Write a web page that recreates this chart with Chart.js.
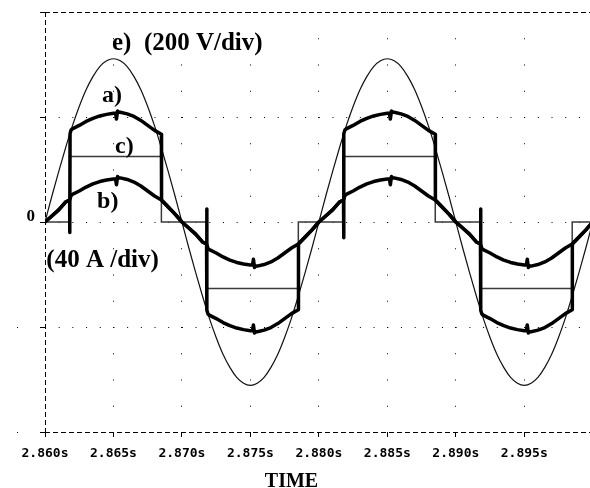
<!DOCTYPE html>
<html>
<head>
<meta charset="utf-8">
<script src="https://cdn.jsdelivr.net/npm/chart.js@4.4.1/dist/chart.umd.min.js"></script>
<style>
  html, body { margin: 0; padding: 0; background: #fff; }
  #c { display: block; }
</style>
</head>
<body>
<canvas id="c" width="590" height="488"></canvas>
<script>
// ---- data (time in ms after 2.860 s) ----
const xTickValues = [0, 5, 10, 15, 20, 25, 30, 35];
const xTickLabels = ['2.860s', '2.865s', '2.870s', '2.875s', '2.880s', '2.885s', '2.890s', '2.895s'];
const yTickValues = [-2, -1, 0, 1, 2];
const VOLTS_PER_DIV = 200;
const AMPS_PER_DIV = 40;
const curveLabels = ['e)  (200 V/div)', 'a)', 'c)', 'b)'];
const currentScaleLabel = '(40 A /div)';
const axisTitle = 'TIME';

// e) supply voltage [ms, V]
const voltage = [[0,0],[0.5,49],[1,96],[1.5,141],[2,183],[2.5,220],[3,252],[3.5,277],[4,296],[4.5,307],[5,311],[5.5,307],[6,296],[6.5,277],[7,252],[7.5,220],[8,183],[8.5,141],[9,96],[9.5,49],
[10,0],[10.5,-49],[11,-96],[11.5,-141],[12,-183],[12.5,-220],[13,-252],[13.5,-277],[14,-296],[14.5,-307],[15,-311],[15.5,-307],[16,-296],[16.5,-277],[17,-252],[17.5,-220],[18,-183],[18.5,-141],[19,-96],[19.5,-49],
[20,0],[20.5,49],[21,96],[21.5,141],[22,183],[22.5,220],[23,252],[23.5,277],[24,296],[24.5,307],[25,311],[25.5,307],[26,296],[26.5,277],[27,252],[27.5,220],[28,183],[28.5,141],[29,96],[29.5,49],
[30,0],[30.5,-49],[31,-96],[31.5,-141],[32,-183],[32.5,-220],[33,-252],[33.5,-277],[34,-296],[34.5,-307],[35,-311],[35.5,-307],[36,-296],[36.5,-277],[37,-252],[37.5,-220],[38,-183],[38.5,-141],[39,-96],[39.5,-49],[40,0]];

// b) current [ms, A]
const currentB = [[0,0],[0.5,2.3],[1,4.6],[1.5,7.6],[1.8,8.4],[1.9,10],[2,10.5],[2.5,11.8],[3,13.3],[3.5,14.5],[4,15.4],[4.5,16],[5,16.4],[5.15,16.4],[5.22,14.2],[5.3,17.3],[5.4,16.8],[5.5,16.8],[6,16.2],[6.5,15.2],[7,13.7],[7.5,11.8],[8,9.9],[8.5,8.4],[9,5.7],[9.5,3],
[10,0],[10.5,-2.3],[11,-4.6],[11.5,-7.6],[11.8,-8.4],[11.9,-10],[12,-10.5],[12.5,-11.8],[13,-13.3],[13.5,-14.5],[14,-15.4],[14.5,-16],[15,-16.4],[15.15,-16.4],[15.22,-14.2],[15.3,-17.3],[15.4,-16.8],[15.5,-16.8],[16,-16.2],[16.5,-15.2],[17,-13.7],[17.5,-11.8],[18,-9.9],[18.5,-8.4],[19,-5.7],[19.5,-3],
[20,0],[20.5,2.3],[21,4.6],[21.5,7.6],[21.8,8.4],[21.9,10],[22,10.5],[22.5,11.8],[23,13.3],[23.5,14.5],[24,15.4],[24.5,16],[25,16.4],[25.15,16.4],[25.22,14.2],[25.3,17.3],[25.4,16.8],[25.5,16.8],[26,16.2],[26.5,15.2],[27,13.7],[27.5,11.8],[28,9.9],[28.5,8.4],[29,5.7],[29.5,3],
[30,0],[30.5,-2.3],[31,-4.6],[31.5,-7.6],[31.8,-8.4],[31.9,-10],[32,-10.5],[32.5,-11.8],[33,-13.3],[33.5,-14.5],[34,-15.4],[34.5,-16],[35,-16.4],[35.15,-16.4],[35.22,-14.2],[35.3,-17.3],[35.4,-16.8],[35.5,-16.8],[36,-16.2],[36.5,-15.2],[37,-13.7],[37.5,-11.8],[38,-9.9],[38.5,-8.4],[39,-5.7],[39.5,-3],[40,0]];

// a) current [ms, A]
const currentA = [[0,0],[0.5,2.3],[1,4.6],[1.5,7.6],[1.8,8.4],[1.81,-4],[1.83,33.6],[1.9,35],[2,35.5],[2.5,36.8],[3,38.3],[3.5,39.5],[4,40.4],[4.5,41],[5,41.4],[5.15,41.4],[5.22,39.2],[5.3,42.3],[5.4,41.8],[5.5,41.8],[6,41.2],[6.5,40.2],[7,38.7],[7.5,36.8],[8,34.9],[8.5,33.4],[8.51,8.4],[9,5.7],[9.5,3],
[10,0],[10.5,-2.3],[11,-4.6],[11.5,-7.6],[11.8,-8.4],[11.81,5],[11.83,-33.6],[11.9,-35],[12,-35.5],[12.5,-36.8],[13,-38.3],[13.5,-39.5],[14,-40.4],[14.5,-41],[15,-41.4],[15.15,-41.4],[15.22,-39.2],[15.3,-42.3],[15.4,-41.8],[15.5,-41.8],[16,-41.2],[16.5,-40.2],[17,-38.7],[17.5,-36.8],[18,-34.9],[18.5,-33.4],[18.51,-8.4],[19,-5.7],[19.5,-3],
[20,0],[20.5,2.3],[21,4.6],[21.5,7.6],[21.8,8.4],[21.81,-6],[21.83,33.6],[21.9,35],[22,35.5],[22.5,36.8],[23,38.3],[23.5,39.5],[24,40.4],[24.5,41],[25,41.4],[25.15,41.4],[25.22,39.2],[25.3,42.3],[25.4,41.8],[25.5,41.8],[26,41.2],[26.5,40.2],[27,38.7],[27.5,36.8],[28,34.9],[28.5,33.4],[28.51,8.4],[29,5.7],[29.5,3],
[30,0],[30.5,-2.3],[31,-4.6],[31.5,-7.6],[31.8,-8.4],[31.81,5],[31.83,-33.6],[31.9,-35],[32,-35.5],[32.5,-36.8],[33,-38.3],[33.5,-39.5],[34,-40.4],[34.5,-41],[35,-41.4],[35.15,-41.4],[35.22,-39.2],[35.3,-42.3],[35.4,-41.8],[35.5,-41.8],[36,-41.2],[36.5,-40.2],[37,-38.7],[37.5,-36.8],[38,-34.9],[38.5,-33.4],[38.51,-8.4],[39,-5.7],[39.5,-3],[40,0]];

// c) square-wave current [ms of change, new level A]
const currentC = [[0,0],[1.8,25],[8.5,0],[11.8,-25.3],[18.5,0],[21.8,25],[28.5,0],[31.8,-25.3],[38.5,0],[40,0]];

// ---- build ----
const toDiv = (arr, perDiv) => arr.map(p => ({ x: p[0], y: p[1] / perDiv }));

const serif = '"Liberation Serif", "Times New Roman", Times, serif';

const labelPlugin = {
  id: 'curveLabels',
  afterDraw(chart) {
    const { ctx, scales: { x, y } } = chart;
    const put = (txt, xv, yv, size, align) => {
      ctx.font = 'bold ' + size + 'px ' + serif;
      ctx.textAlign = align || 'left';
      ctx.textBaseline = 'alphabetic';
      ctx.fillStyle = '#000';
      ctx.fillText(txt, x.getPixelForValue(xv), y.getPixelForValue(yv));
    };
    ctx.save();
    put(curveLabels[0], 4.89, 1.638, 25);
    put(curveLabels[1], 4.16, 1.143, 24);
    put(curveLabels[2], 5.11, 0.657, 24);
    put(curveLabels[3], 3.80, 0.133, 24);
    put(currentScaleLabel, 0.1, -0.43, 25);
    put(axisTitle, 18.0, -2.52, 20, 'center');
    ctx.restore();
  }
};

const thick = { showLine: true, borderColor: '#000', borderWidth: 3.5, pointRadius: 0, tension: 0, borderJoinStyle: 'round', borderCapStyle: 'round' };

new Chart(document.getElementById('c'), {
  type: 'scatter',
  data: {
    datasets: [
      Object.assign({ label: 'b)', data: toDiv(currentB, AMPS_PER_DIV) }, thick),
      Object.assign({ label: 'a)', data: toDiv(currentA, AMPS_PER_DIV) }, thick),
      { label: 'c)', data: toDiv(currentC, AMPS_PER_DIV), showLine: true, stepped: 'before', borderColor: '#3a3a3a', borderWidth: 1.5, pointRadius: 0 },
      { label: 'e)', data: toDiv(voltage, VOLTS_PER_DIV), showLine: true, borderColor: '#111', borderWidth: 1.2, pointRadius: 0, cubicInterpolationMode: 'monotone' }
    ]
  },
  options: {
    responsive: false,
    animation: false,
    devicePixelRatio: 1,
    layout: { padding: { top: 12, right: 0, left: 0, bottom: 0 } },
    plugins: { legend: { display: false }, tooltip: { enabled: false } },
    scales: {
      x: {
        type: 'linear',
        min: 0,
        max: 39.8,
        afterBuildTicks: s => { s.ticks = xTickValues.map(v => ({ value: v })); },
        afterFit: s => { s.height = 56; },
        ticks: {
          autoSkip: false,
          maxRotation: 0,
          padding: 9,
          color: '#000',
          font: { family: '"DejaVu Sans Mono", monospace', size: 13, weight: 'bold' },
          callback: (v, i) => xTickLabels[i]
        },
        grid: {
          color: '#000',
          lineWidth: 1,
          tickColor: '#000',
          tickLength: 5,
          tickBorderDash: []
        },
        border: { display: false, color: '#000', width: 1, dash: c => (c.index === 0 ? [5, 3] : [1, 25.25]) }
      },
      y: {
        type: 'linear',
        min: -2,
        max: 2,
        afterBuildTicks: s => { s.ticks = yTickValues.map(v => ({ value: v })); },
        afterFit: s => { s.width = 45; },
        ticks: {
          padding: -18,
          color: '#000',
          font: { family: serif, size: 17, weight: 'bold', lineHeight: 0.6 },
          callback: v => (v === 0 ? ['0', ''] : '')
        },
        grid: {
          color: '#000',
          lineWidth: 1,
          tickColor: '#000',
          tickLength: 28,
          tickBorderDash: c => (c.tick && c.tick.value <= -1 ? [1, 22, 5] : [0, 23, 5])
        },
        border: { display: false, color: '#000', width: 1, dash: c => (c.tick && Math.abs(c.tick.value) === 2 ? [5, 3] : [1, 12.69]) }
      }
    }
  },
  plugins: [labelPlugin]
});
</script>
</body>
</html>
